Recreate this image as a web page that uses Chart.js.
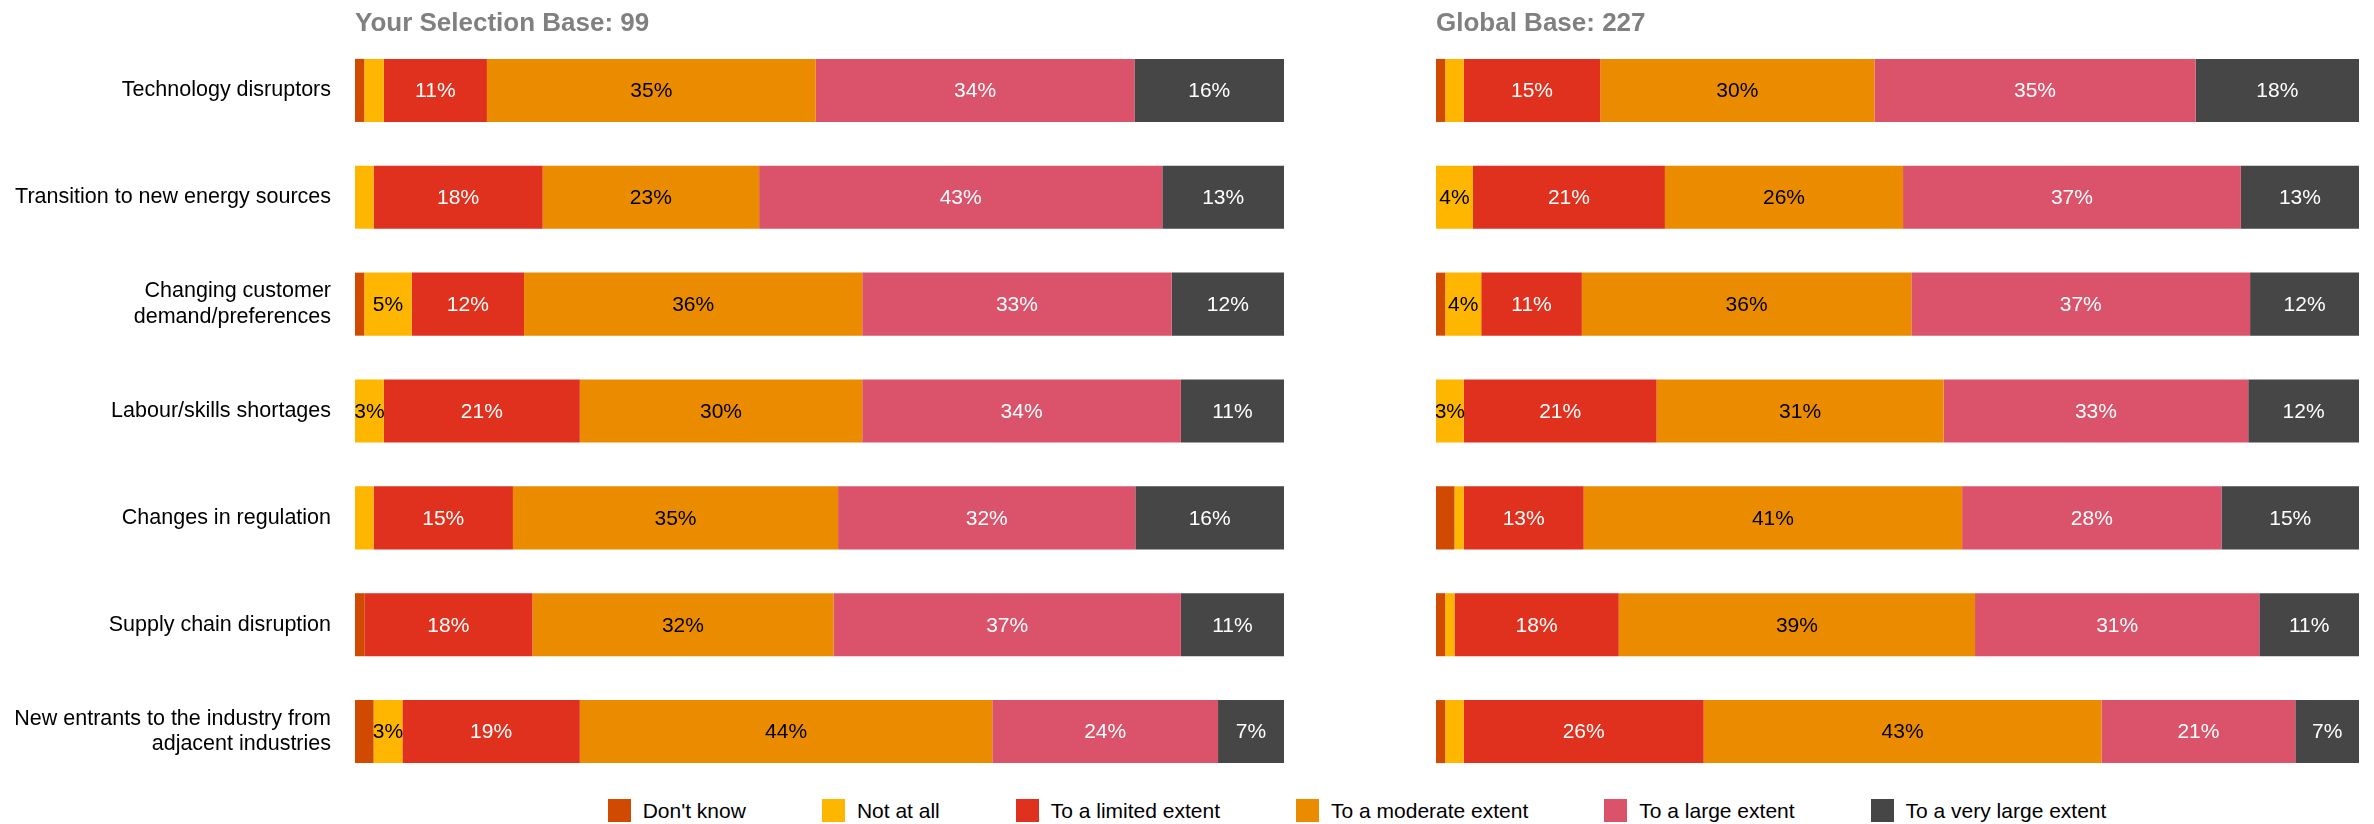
<!DOCTYPE html>
<html>
<head>
<meta charset="utf-8">
<title>Extent of disruption by driver</title>
<script src="https://cdn.jsdelivr.net/npm/chart.js@4.4.0/dist/chart.umd.min.js"></script>
<style>
  html, body { margin: 0; padding: 0; background: #ffffff; }
  #wrap { position: relative; width: 2374px; height: 824px; overflow: hidden;
          font-family: "Liberation Sans", Arial, sans-serif; }
  #selCanvas { position: absolute; left: 0; top: 0; }
  #globCanvas { position: absolute; left: 1436px; top: 0; }
  #legend { position: absolute; left: 355px; width: 2004px; top: 799px; height: 23px;
            display: flex; justify-content: center; align-items: center; }
  .item { display: flex; align-items: center; margin: 0 38px; font-size: 21px;
          color: #000000; white-space: nowrap; line-height: 23px; }
  .swatch { width: 23px; height: 23px; margin-right: 12px; flex: none; }
</style>
</head>
<body>
<div id="wrap">
  <canvas id="selCanvas" width="1284" height="785"></canvas>
  <canvas id="globCanvas" width="923" height="785"></canvas>
  <div id="legend"></div>
</div>
<script>
// Drivers, top to bottom
const categories = [
  'Technology disruptors',
  'Transition to new energy sources',
  ['Changing customer', 'demand/preferences'],
  'Labour/skills shortages',
  'Changes in regulation',
  'Supply chain disruption',
  ['New entrants to the industry from', 'adjacent industries']
];

// Response scale and its colours
const responses = ["Don't know", 'Not at all', 'To a limited extent',
                   'To a moderate extent', 'To a large extent', 'To a very large extent'];
const responseColors = ['#D04A02', '#FFB600', '#E0301E', '#EB8C00', '#DB536A', '#464646'];
const labelColors = ['#000000', '#000000', '#ffffff', '#000000', '#ffffff', '#ffffff'];

// Panel titles
const selectionTitle = 'Your Selection Base: 99';
const globalTitle = 'Global Base: 227';

// Your selection (% of respondents)
const selDontKnow = [1.0, 0,    1.0,  0,    0,    1.0,  2.0];
const selNotAtAll = [2.1, 2.0,  5.1,  3.1,  2.0,  0,    3.1];
const selLimited  = [11.1, 18.2, 12.1, 21.1, 15.0, 18.1, 19.1];
const selModerate = [35.4, 23.3, 36.4, 30.4, 35.0, 32.4, 44.4];
const selLarge    = [34.3, 43.4, 33.3, 34.3, 32.0, 37.4, 24.3];
const selVeryLarge= [16.1, 13.1, 12.1, 11.1, 16.0, 11.1, 7.1];

// Global (% of respondents)
const globDontKnow = [1.0, 0,    1.0,  0,    2.0,  1.0,  1.0];
const globNotAtAll = [2.0, 4.0,  3.9,  3.0,  1.0,  1.0,  2.0];
const globLimited  = [14.8, 20.8, 10.9, 20.9, 13.0, 17.8, 26.0];
const globModerate = [29.7, 25.8, 35.7, 31.1, 41.0, 38.6, 43.1];
const globLarge    = [34.8, 36.6, 36.7, 33.0, 28.1, 30.8, 21.0];
const globVeryLarge= [17.7, 12.8, 11.8, 12.0, 14.9, 10.8, 6.9];

const FONT = '"Liberation Sans", Arial, sans-serif';
Chart.defaults.font.family = FONT;
Chart.defaults.color = '#000000';

function makeDatasets(series) {
  return series.map((values, i) => ({
    label: responses[i],
    data: values,
    backgroundColor: responseColors[i],
    borderWidth: 0,
    barPercentage: 0.59,
    categoryPercentage: 1.0
  }));
}

// Percentage written in the middle of each segment (3% and above)
const segmentLabels = {
  id: 'segmentLabels',
  afterDatasetsDraw(chart) {
    const ctx = chart.ctx;
    ctx.save();
    ctx.font = '21px ' + FONT;
    ctx.textAlign = 'center';
    ctx.textBaseline = 'middle';
    chart.data.datasets.forEach((ds, i) => {
      const meta = chart.getDatasetMeta(i);
      if (meta.hidden) return;
      meta.data.forEach((bar, j) => {
        const shown = Math.round(ds.data[j]);
        if (shown < 3) return;
        const p = bar.getProps(['x', 'y', 'base'], true);
        ctx.fillStyle = labelColors[i];
        ctx.fillText(shown + '%', (p.x + p.base) / 2, p.y + 1);
      });
    });
    ctx.restore();
  }
};

function makeOptions(titleText, showCategories) {
  return {
    indexAxis: 'y',
    responsive: false,
    devicePixelRatio: 1,
    animation: false,
    layout: { padding: 0 },
    scales: {
      x: { stacked: true, min: 0, max: 100, display: false },
      y: {
        stacked: true,
        display: showCategories,
        grid: { display: false, drawTicks: false },
        border: { display: false },
        ticks: { padding: 24, color: '#000000', font: { size: 21.5, family: FONT, lineHeight: 1.17 } },
        afterFit(scale) {
          if (!showCategories) return;
          // fixed label column; bars are offset so labels never need extra room
          scale.width = 355;
          scale.paddingTop = 0;
          scale.paddingBottom = 0;
        }
      }
    },
    plugins: {
      legend: { display: false },
      tooltip: { enabled: false },
      title: {
        display: true,
        text: titleText,
        align: 'start',
        fullSize: false,
        color: '#808080',
        font: { size: 26, weight: 'bold', family: FONT, lineHeight: 1 },
        padding: { top: 11, bottom: 0 }
      }
    }
  };
}

const selChart = new Chart(document.getElementById('selCanvas'), {
  type: 'bar',
  data: {
    labels: categories,
    datasets: makeDatasets([selDontKnow, selNotAtAll, selLimited, selModerate, selLarge, selVeryLarge])
  },
  options: makeOptions(selectionTitle, true),
  plugins: [segmentLabels]
});

const globChart = new Chart(document.getElementById('globCanvas'), {
  type: 'bar',
  data: {
    labels: categories,
    datasets: makeDatasets([globDontKnow, globNotAtAll, globLimited, globModerate, globLarge, globVeryLarge])
  },
  options: makeOptions(globalTitle, false),
  plugins: [segmentLabels]
});

// Shared legend for both panels, built from the chart's own legend items
const legendEl = document.getElementById('legend');
selChart.options.plugins.legend.labels.generateLabels(selChart).forEach(item => {
  const el = document.createElement('div');
  el.className = 'item';
  const sw = document.createElement('span');
  sw.className = 'swatch';
  sw.style.background = item.fillStyle;
  const tx = document.createElement('span');
  tx.textContent = item.text;
  el.appendChild(sw);
  el.appendChild(tx);
  legendEl.appendChild(el);
});
</script>
</body>
</html>
